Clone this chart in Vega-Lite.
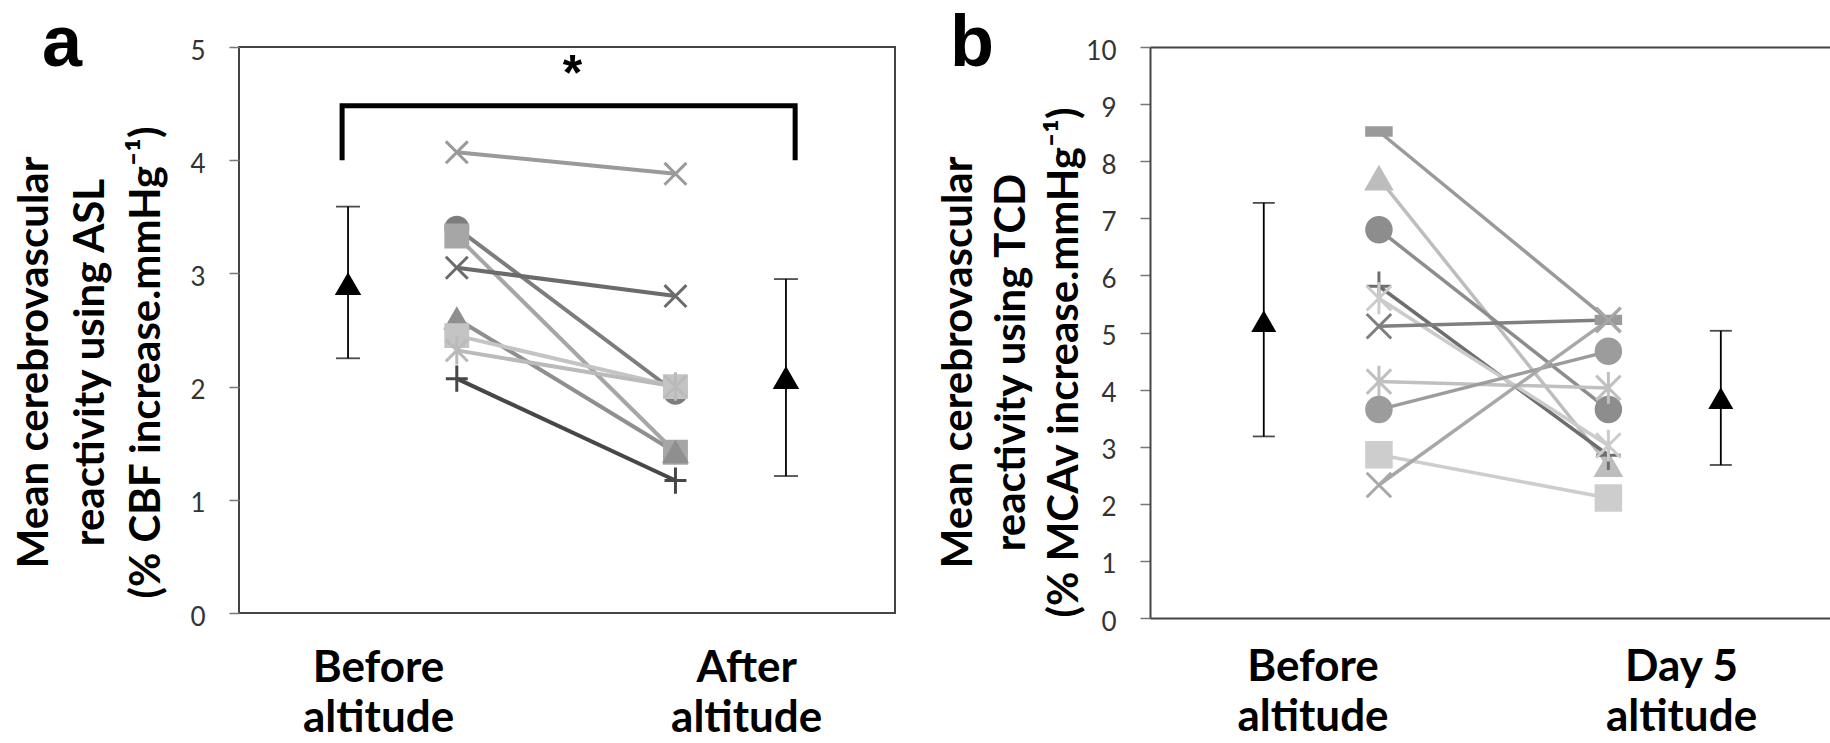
{
  "$schema": "https://vega.github.io/schema/vega-lite/v6.json",
  "background": "white",
  "padding": {"left": 12, "top": 7, "right": 0, "bottom": 0},
  "spacing": 41,
  "config": {"view": {"stroke": null}, "axis": {"grid": false}, "font": "Lato"},
  "resolve": {"scale": {"color": "independent", "stroke": "independent", "shape": "independent"}},
  "datasets": {
    "aInd": [
      {"subject": "A", "phase": "Before altitude", "value": 4.07}, {"subject": "A", "phase": "After altitude", "value": 3.88},
      {"subject": "B", "phase": "Before altitude", "value": 3.40}, {"subject": "B", "phase": "After altitude", "value": 1.95},
      {"subject": "C", "phase": "Before altitude", "value": 3.33}, {"subject": "C", "phase": "After altitude", "value": 1.42},
      {"subject": "D", "phase": "Before altitude", "value": 3.05}, {"subject": "D", "phase": "After altitude", "value": 2.80},
      {"subject": "E", "phase": "Before altitude", "value": 2.60}, {"subject": "E", "phase": "After altitude", "value": 1.42},
      {"subject": "F", "phase": "Before altitude", "value": 2.45}, {"subject": "F", "phase": "After altitude", "value": 2.00},
      {"subject": "G", "phase": "Before altitude", "value": 2.32}, {"subject": "G", "phase": "After altitude", "value": 2.00},
      {"subject": "H", "phase": "Before altitude", "value": 2.07}, {"subject": "H", "phase": "After altitude", "value": 1.17}
    ],
    "aMean": [
      {"phase": "Before altitude", "mean": 2.91, "lower": 2.25, "upper": 3.59},
      {"phase": "After altitude", "mean": 2.08, "lower": 1.21, "upper": 2.95}
    ],
    "aBracket": [
      {"phase": "Before altitude", "level": 4.0, "step": 1},
      {"phase": "Before altitude", "level": 4.48, "step": 2},
      {"phase": "After altitude", "level": 4.48, "step": 3},
      {"phase": "After altitude", "level": 4.0, "step": 4}
    ],
    "bInd": [
      {"subject": "S1", "phase": "Before altitude", "value": 8.52}, {"subject": "S1", "phase": "Day 5 altitude", "value": 5.22},
      {"subject": "S2", "phase": "Before altitude", "value": 7.70}, {"subject": "S2", "phase": "Day 5 altitude", "value": 2.68},
      {"subject": "S3", "phase": "Before altitude", "value": 6.80}, {"subject": "S3", "phase": "Day 5 altitude", "value": 3.65},
      {"subject": "S4", "phase": "Before altitude", "value": 5.81}, {"subject": "S4", "phase": "Day 5 altitude", "value": 2.85},
      {"subject": "S5", "phase": "Before altitude", "value": 5.60}, {"subject": "S5", "phase": "Day 5 altitude", "value": 3.02},
      {"subject": "S6", "phase": "Before altitude", "value": 5.11}, {"subject": "S6", "phase": "Day 5 altitude", "value": 5.22},
      {"subject": "S7", "phase": "Before altitude", "value": 4.14}, {"subject": "S7", "phase": "Day 5 altitude", "value": 4.03},
      {"subject": "S8", "phase": "Before altitude", "value": 3.65}, {"subject": "S8", "phase": "Day 5 altitude", "value": 4.67},
      {"subject": "S9", "phase": "Before altitude", "value": 2.86}, {"subject": "S9", "phase": "Day 5 altitude", "value": 2.10},
      {"subject": "S10", "phase": "Before altitude", "value": 2.33}, {"subject": "S10", "phase": "Day 5 altitude", "value": 5.22}
    ],
    "bMean": [
      {"phase": "Before altitude", "mean": 5.20, "lower": 3.18, "upper": 7.27},
      {"phase": "Day 5 altitude", "mean": 3.85, "lower": 2.68, "upper": 5.03}
    ]
  },
  "hconcat": [
    {
      "width": 656,
      "height": 566,
      "view": {"stroke": "#444", "strokeWidth": 2},
      "title": {"text": "a", "anchor": "start", "frame": "bounds", "font": "Liberation Sans", "fontSize": 72, "fontWeight": "bold", "color": "black", "baseline": "alphabetic", "offset": -85, "dx": 29, "dy": 15},
      "resolve": {"scale": {"x": "independent"}, "axis": {"x": "independent"}},
      "layer": [
        {
          "data": {"name": "aMean"},
          "mark": {"type": "point", "opacity": 0},
          "encoding": {
            "x": {"field": "phase", "type": "nominal",
              "scale": {"type": "point", "domain": ["Before altitude", "After altitude"], "padding": 0.391, "align": 0.483},
              "axis": {"orient": "bottom", "title": null, "domain": false, "ticks": false,
                "labelExpr": "[replace(datum.label, ' altitude', ''), 'altitude']",
                "labelFont": "Lato", "labelFontWeight": "bold", "labelFontSize": 44, "labelColor": "black",
                "labelPadding": 33, "labelLineHeight": 50, "labelAngle": 0, "labelOverlap": false, "labelBaseline": "top"}}
          }
        },
        {
          "data": {"name": "aBracket"},
          "mark": {"type": "line", "color": "black", "strokeWidth": 5, "strokeJoin": "miter", "strokeCap": "butt"},
          "encoding": {
            "x": {"field": "phase", "type": "nominal",
              "scale": {"type": "point", "domain": ["Before altitude", "After altitude"], "padding": 0.224, "align": 0.508},
              "axis": {"orient": "top", "domain": false, "ticks": false, "labels": false, "title": "*",
                "titleFont": "Liberation Sans", "titleFontSize": 50, "titleFontWeight": "bold", "titleColor": "black",
                "titleBaseline": "alphabetic", "titleX": 333, "titleY": 42}},
            "y": {"field": "level", "type": "quantitative", "scale": {"domain": [0, 5], "nice": false},
              "axis": {"orient": "left", "values": [0, 1, 2, 3, 4, 5], "format": "d", "domain": false, "tickSize": 10, "tickColor": "#777", "tickWidth": 1.5,
                "labelPadding": 24, "labelFont": "Lato", "labelFontSize": 26, "labelColor": "#333", "labelOffset": 4,
                "title": ["Mean cerebrovascular", "reactivity using ASL", "(% CBF increase.mmHg⁻¹)"],
                "titleFont": "Lato", "titleFontSize": 42, "titleFontWeight": "bold", "titleColor": "black", "titleLineHeight": 56,
                "titleAngle": -90, "titleAlign": "center", "titleBaseline": "alphabetic", "titleX": -192, "titleY": 315}},
            "order": {"field": "step", "type": "quantitative"}
          }
        },
        {
          "data": {"name": "aInd"},
          "mark": {"type": "line", "strokeWidth": 4},
          "encoding": {
            "x": {"field": "phase", "type": "nominal",
              "scale": {"type": "point", "domain": ["Before altitude", "After altitude"], "padding": 1.02, "align": 0.498}, "axis": null},
            "y": {"field": "value", "type": "quantitative", "scale": {"domain": [0, 5], "nice": false}},
            "color": {"field": "subject", "type": "nominal",
              "scale": {"domain": ["A", "B", "C", "D", "E", "F", "G", "H"], "range": ["#9a9a9a", "#7d7d7d", "#a6a6a6", "#6b6b6b", "#8f8f8f", "#c4c4c4", "#bababa", "#474747"]},
              "legend": null}
          }
        },
        {
          "data": {"name": "aInd"},
          "mark": {"type": "point", "filled": true, "opacity": 1, "size": 480, "strokeWidth": 3},
          "encoding": {
            "x": {"field": "phase", "type": "nominal",
              "scale": {"type": "point", "domain": ["Before altitude", "After altitude"], "padding": 1.02, "align": 0.498}, "axis": null},
            "y": {"field": "value", "type": "quantitative", "scale": {"domain": [0, 5], "nice": false}},
            "color": {"field": "subject", "type": "nominal",
              "scale": {"domain": ["A", "B", "C", "D", "E", "F", "G", "H"], "range": ["#9a9a9a", "#7d7d7d", "#a6a6a6", "#6b6b6b", "#8f8f8f", "#c4c4c4", "#bababa", "#474747"]},
              "legend": null},
            "stroke": {"field": "subject", "type": "nominal",
              "scale": {"domain": ["A", "B", "C", "D", "E", "F", "G", "H"], "range": ["#9a9a9a", "#7d7d7d", "#a6a6a6", "#6b6b6b", "#8f8f8f", "#c4c4c4", "#bababa", "#474747"]},
              "legend": null},
            "shape": {"field": "subject", "type": "nominal",
              "scale": {"domain": ["A", "B", "C", "D", "E", "F", "G", "H"],
                "range": ["M-1,-1L1,1M-1,1L1,-1", "circle", "square", "M-1,-1L1,1M-1,1L1,-1", "triangle-up", "square", "M-1,-1L1,1M-1,1L1,-1M0,-1.3L0,1.3", "M-1,0L1,0M0,-1.2L0,1.2"]},
              "legend": null}
          }
        },
        {
          "data": {"name": "aMean"},
          "mark": {"type": "rule", "color": "black", "strokeWidth": 1.8},
          "encoding": {
            "x": {"field": "phase", "type": "nominal",
              "scale": {"type": "point", "domain": ["Before altitude", "After altitude"], "padding": 0.249, "align": 0.5}, "axis": null},
            "y": {"field": "lower", "type": "quantitative", "scale": {"domain": [0, 5], "nice": false}},
            "y2": {"field": "upper"}
          }
        },
        {
          "data": {"name": "aMean"},
          "mark": {"type": "tick", "orient": "horizontal", "color": "black", "size": 24, "thickness": 1.8},
          "encoding": {
            "x": {"field": "phase", "type": "nominal",
              "scale": {"type": "point", "domain": ["Before altitude", "After altitude"], "padding": 0.249, "align": 0.5}, "axis": null},
            "y": {"field": "lower", "type": "quantitative", "scale": {"domain": [0, 5], "nice": false}}
          }
        },
        {
          "data": {"name": "aMean"},
          "mark": {"type": "tick", "orient": "horizontal", "color": "black", "size": 24, "thickness": 1.8},
          "encoding": {
            "x": {"field": "phase", "type": "nominal",
              "scale": {"type": "point", "domain": ["Before altitude", "After altitude"], "padding": 0.249, "align": 0.5}, "axis": null},
            "y": {"field": "upper", "type": "quantitative", "scale": {"domain": [0, 5], "nice": false}}
          }
        },
        {
          "data": {"name": "aMean"},
          "mark": {"type": "point", "shape": "triangle-up", "filled": true, "opacity": 1, "color": "black", "size": 700},
          "encoding": {
            "x": {"field": "phase", "type": "nominal",
              "scale": {"type": "point", "domain": ["Before altitude", "After altitude"], "padding": 0.249, "align": 0.5}, "axis": null},
            "y": {"field": "mean", "type": "quantitative", "scale": {"domain": [0, 5], "nice": false}}
          }
        }
      ]
    },
    {
      "width": 681,
      "height": 571,
      "view": {"stroke": null},
      "title": {"text": "b", "anchor": "start", "frame": "bounds", "font": "Liberation Sans", "fontSize": 72, "fontWeight": "bold", "color": "black", "baseline": "alphabetic", "offset": -85, "dx": 13, "dy": 15},
      "resolve": {"scale": {"x": "independent"}, "axis": {"x": "independent"}},
      "layer": [
        {
          "data": {"name": "bMean"},
          "mark": {"type": "point", "opacity": 0},
          "encoding": {
            "x": {"field": "phase", "type": "nominal",
              "scale": {"type": "point", "domain": ["Before altitude", "Day 5 altitude"], "padding": 0.424, "align": 0.52},
              "axis": {"orient": "bottom", "title": null, "domain": true, "domainColor": "#444", "domainWidth": 2, "ticks": false,
                "labelExpr": "[replace(datum.label, ' altitude', ''), 'altitude']",
                "labelFont": "Lato", "labelFontWeight": "bold", "labelFontSize": 44, "labelColor": "black",
                "labelPadding": 27, "labelLineHeight": 50, "labelAngle": 0, "labelOverlap": false, "labelBaseline": "top"}}
          }
        },
        {
          "data": {"name": "bInd"},
          "mark": {"type": "line", "strokeWidth": 3.5},
          "encoding": {
            "x": {"field": "phase", "type": "nominal",
              "scale": {"type": "point", "domain": ["Before altitude", "Day 5 altitude"], "padding": 0.984, "align": 0.507},
              "axis": {"orient": "top", "domain": true, "domainColor": "#444", "domainWidth": 2, "ticks": false, "labels": false, "title": null}},
            "y": {"field": "value", "type": "quantitative", "scale": {"domain": [0, 10], "nice": false},
              "axis": {"orient": "left", "values": [0, 1, 2, 3, 4, 5, 6, 7, 8, 9, 10], "format": "d", "domain": true, "domainColor": "#444", "domainWidth": 2,
                "tickSize": 10, "tickColor": "#777", "tickWidth": 1.5,
                "labelPadding": 24, "labelFont": "Lato", "labelFontSize": 26, "labelColor": "#333", "labelOffset": 4,
                "title": ["Mean cerebrovascular", "reactivity using TCD", "(% MCAv increase.mmHg⁻¹)"],
                "titleFont": "Lato", "titleFontSize": 42, "titleFontWeight": "bold", "titleColor": "black", "titleLineHeight": 53,
                "titleAngle": -90, "titleAlign": "center", "titleBaseline": "alphabetic", "titleX": -179, "titleY": 315}},
            "color": {"field": "subject", "type": "nominal",
              "scale": {"domain": ["S1", "S2", "S3", "S4", "S5", "S6", "S7", "S8", "S9", "S10"], "range": ["#9a9a9a", "#bdbdbd", "#8d8d8d", "#6e6e6e", "#cbcbcb", "#7f7f7f", "#c0c0c0", "#9c9c9c", "#cdcdcd", "#a8a8a8"]},
              "legend": null}
          }
        },
        {
          "data": {"name": "bInd"},
          "mark": {"type": "point", "filled": true, "opacity": 1, "size": 600, "strokeWidth": 3},
          "encoding": {
            "x": {"field": "phase", "type": "nominal",
              "scale": {"type": "point", "domain": ["Before altitude", "Day 5 altitude"], "padding": 0.984, "align": 0.507}, "axis": null},
            "y": {"field": "value", "type": "quantitative", "scale": {"domain": [0, 10], "nice": false}},
            "color": {"field": "subject", "type": "nominal",
              "scale": {"domain": ["S1", "S2", "S3", "S4", "S5", "S6", "S7", "S8", "S9", "S10"], "range": ["#9a9a9a", "#bdbdbd", "#8d8d8d", "#6e6e6e", "#cbcbcb", "#7f7f7f", "#c0c0c0", "#9c9c9c", "#cdcdcd", "#a8a8a8"]},
              "legend": null},
            "stroke": {"field": "subject", "type": "nominal",
              "scale": {"domain": ["S1", "S2", "S3", "S4", "S5", "S6", "S7", "S8", "S9", "S10"], "range": ["#9a9a9a", "#bdbdbd", "#8d8d8d", "#6e6e6e", "#cbcbcb", "#7f7f7f", "#c0c0c0", "#9c9c9c", "#cdcdcd", "#a8a8a8"]},
              "legend": null},
            "shape": {"field": "subject", "type": "nominal",
              "scale": {"domain": ["S1", "S2", "S3", "S4", "S5", "S6", "S7", "S8", "S9", "S10"],
                "range": ["M-1,-0.3L1,-0.3L1,0.3L-1,0.3Z", "triangle-up", "circle", "M-1,0L1,0M0,-1.2L0,1.2", "M-1,-1L1,1M-1,1L1,-1M0,-1.3L0,1.3", "M-1,-1L1,1M-1,1L1,-1", "M-1,-1L1,1M-1,1L1,-1M0,-1.3L0,1.3", "circle", "square", "M-1,-1L1,1M-1,1L1,-1"]},
              "legend": null}
          }
        },
        {
          "data": {"name": "bMean"},
          "mark": {"type": "rule", "color": "black", "strokeWidth": 1.8},
          "encoding": {
            "x": {"field": "phase", "type": "nominal",
              "scale": {"type": "point", "domain": ["Before altitude", "Day 5 altitude"], "padding": 0.245, "align": 0.508}, "axis": null},
            "y": {"field": "lower", "type": "quantitative", "scale": {"domain": [0, 10], "nice": false}},
            "y2": {"field": "upper"}
          }
        },
        {
          "data": {"name": "bMean"},
          "mark": {"type": "tick", "orient": "horizontal", "color": "black", "size": 22, "thickness": 1.8},
          "encoding": {
            "x": {"field": "phase", "type": "nominal",
              "scale": {"type": "point", "domain": ["Before altitude", "Day 5 altitude"], "padding": 0.245, "align": 0.508}, "axis": null},
            "y": {"field": "lower", "type": "quantitative", "scale": {"domain": [0, 10], "nice": false}}
          }
        },
        {
          "data": {"name": "bMean"},
          "mark": {"type": "tick", "orient": "horizontal", "color": "black", "size": 22, "thickness": 1.8},
          "encoding": {
            "x": {"field": "phase", "type": "nominal",
              "scale": {"type": "point", "domain": ["Before altitude", "Day 5 altitude"], "padding": 0.245, "align": 0.508}, "axis": null},
            "y": {"field": "upper", "type": "quantitative", "scale": {"domain": [0, 10], "nice": false}}
          }
        },
        {
          "data": {"name": "bMean"},
          "mark": {"type": "point", "shape": "triangle-up", "filled": true, "opacity": 1, "color": "black", "size": 625},
          "encoding": {
            "x": {"field": "phase", "type": "nominal",
              "scale": {"type": "point", "domain": ["Before altitude", "Day 5 altitude"], "padding": 0.245, "align": 0.508}, "axis": null},
            "y": {"field": "mean", "type": "quantitative", "scale": {"domain": [0, 10], "nice": false}}
          }
        }
      ]
    }
  ]
}
